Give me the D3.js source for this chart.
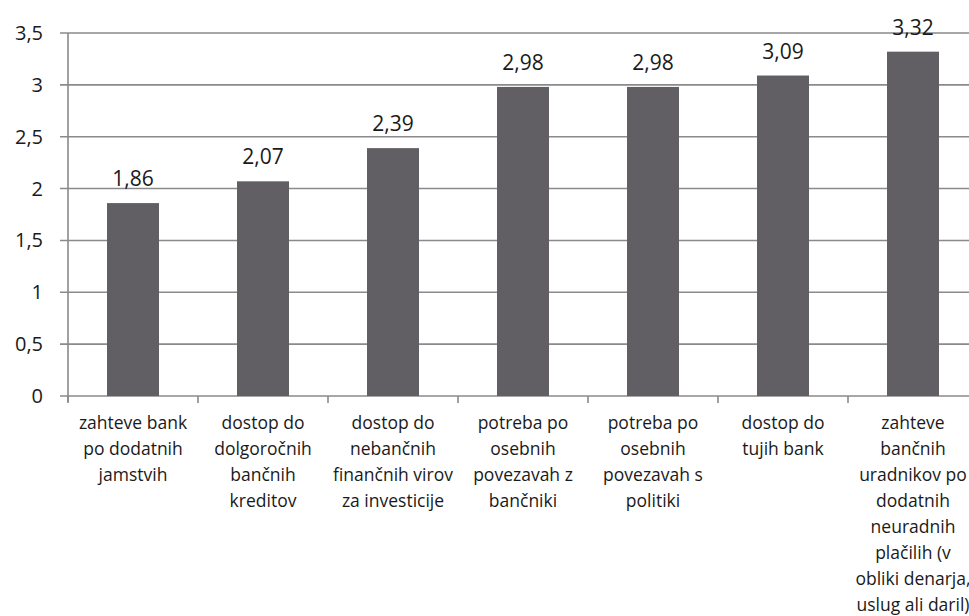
<!DOCTYPE html>
<html><head><meta charset="utf-8">
<script src="https://cdn.jsdelivr.net/npm/d3@7"></script>
<style>body{margin:0;background:#fff}svg{display:block}</style>
</head><body>
<script>
const categories = [
  ["zahteve bank","po dodatnih","jamstvih"],
  ["dostop do","dolgoročnih","bančnih","kreditov"],
  ["dostop do","nebančnih","finančnih virov","za investicije"],
  ["potreba po","osebnih","povezavah z","bančniki"],
  ["potreba po","osebnih","povezavah s","politiki"],
  ["dostop do","tujih bank"],
  ["zahteve","bančnih","uradnikov po","dodatnih","neuradnih","plačilih (v","obliki denarja,","uslug ali daril)"]
];
const values = [1.86, 2.07, 2.39, 2.98, 2.98, 3.09, 3.32];
const yTicks = [0, 0.5, 1, 1.5, 2, 2.5, 3, 3.5];

(function () {
const W = 969, H = 616;
const svg = d3.select("body").append("svg").attr("width", W).attr("height", H);
const mLeft = 68, mTop = 33, mBottom = 396, bandW = 130;
const font = "'Open Sans', sans-serif";
const gridColor = "#8a8a8a";

const x = d3.scaleBand().domain(d3.range(values.length)).range([mLeft, mLeft + bandW * values.length]).paddingInner(0.6).paddingOuter(0.3);
const y = d3.scaleLinear().domain([0, 3.5]).range([mBottom, mTop]);
const fmt = v => String(v).replace(".", ",");

svg.append("g").selectAll("line").data(yTicks).join("line")
  .attr("x1", mLeft - 8).attr("x2", W)
  .attr("y1", d => y(d)).attr("y2", d => y(d))
  .attr("stroke", gridColor).attr("stroke-width", 1.6);

svg.append("line").attr("x1", mLeft).attr("x2", mLeft).attr("y1", mTop).attr("y2", mBottom + 6)
  .attr("stroke", gridColor).attr("stroke-width", 1.6);

svg.append("g").selectAll("text").data(yTicks).join("text")
  .attr("x", mLeft - 25).attr("y", d => y(d)).attr("dy", "0.35em")
  .attr("text-anchor", "end").attr("font-family", font).attr("font-size", 20).attr("fill", "#1a1a1a")
  .text(fmt);

svg.append("g").selectAll("line").data(d3.range(values.length + 1)).join("line")
  .attr("x1", i => mLeft + i * bandW).attr("x2", i => mLeft + i * bandW)
  .attr("y1", mBottom).attr("y2", mBottom + 7)
  .attr("stroke", gridColor).attr("stroke-width", 1.6);

svg.append("g").selectAll("rect").data(values).join("rect")
  .attr("x", (d, i) => x(i)).attr("width", x.bandwidth())
  .attr("y", d => y(d)).attr("height", d => mBottom - y(d))
  .attr("fill", "#615f63");

svg.append("g").selectAll("text").data(values).join("text")
  .attr("x", (d, i) => x(i) + x.bandwidth() / 2).attr("y", d => y(d) - 17)
  .attr("text-anchor", "middle").attr("font-family", font).attr("font-size", 21).attr("fill", "#1a1a1a")
  .text(fmt);

const cg = svg.append("g");
categories.forEach((lines, i) => {
  const t = cg.append("text").attr("text-anchor", "middle").attr("font-family", font)
    .attr("font-size", 17.5).attr("fill", "#1a1a1a");
  lines.forEach((ln, j) => {
    t.append("tspan").attr("x", x(i) + x.bandwidth() / 2).attr("y", 429 + j * 26).text(ln);
  });
});
})();
</script>
</body></html>
